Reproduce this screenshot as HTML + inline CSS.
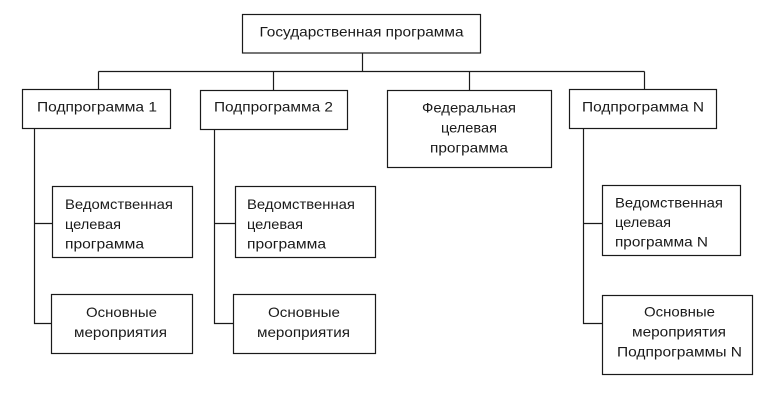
<!DOCTYPE html>
<html><head><meta charset="utf-8"><style>
html,body{margin:0;padding:0;background:#fff;}
svg{display:block;}
text{font-family:"Liberation Sans","DejaVu Sans",sans-serif;font-size:14px;fill:#1a1a1a;}
</style></head><body>
<svg width="768" height="405" viewBox="0 0 768 405" xmlns="http://www.w3.org/2000/svg">
<g fill="#fff" stroke="#1a1a1a" stroke-width="1.2">
<!-- connectors -->
<line x1="362.5" y1="53" x2="362.5" y2="71.5"/>
<line x1="98.5" y1="71.5" x2="644.5" y2="71.5"/>
<line x1="98.5" y1="71.5" x2="98.5" y2="89"/>
<line x1="273.5" y1="71.5" x2="273.5" y2="90"/>
<line x1="469.5" y1="71.5" x2="469.5" y2="90"/>
<line x1="644.5" y1="71.5" x2="644.5" y2="89"/>

<polyline fill="none" points="34.5,128 34.5,323.5 51,323.5"/>
<line x1="34.5" y1="223.5" x2="52" y2="223.5"/>
<polyline fill="none" points="214.5,129 214.5,323.5 233,323.5"/>
<line x1="214.5" y1="223.5" x2="235" y2="223.5"/>
<polyline fill="none" points="583.5,128 583.5,323.5 602,323.5"/>
<line x1="583.5" y1="223.5" x2="602" y2="223.5"/>

<!-- boxes -->
<rect x="242.5" y="14.5" width="238" height="38.5"/>
<rect x="22.5" y="89.5" width="148" height="39"/>
<rect x="200.5" y="90.5" width="147" height="39"/>
<rect x="387.5" y="90.5" width="164" height="77"/>
<rect x="569.5" y="89.5" width="147" height="39"/>

<rect x="52.5" y="186.5" width="140" height="71"/>
<rect x="51.5" y="294.5" width="141" height="59"/>
<rect x="235.5" y="186.5" width="140" height="71"/>
<rect x="233.5" y="294.5" width="142" height="59"/>
<rect x="602.5" y="185.5" width="138" height="70"/>
<rect x="602.5" y="295.5" width="150" height="79"/>
</g>

<text x="259.5" y="36.7" textLength="204" lengthAdjust="spacingAndGlyphs">Государственная программа</text>
<text x="37" y="111.3" textLength="120" lengthAdjust="spacingAndGlyphs">Подпрограмма 1</text>
<text x="214" y="111.5" textLength="119" lengthAdjust="spacingAndGlyphs">Подпрограмма 2</text>
<text x="582" y="111.3" textLength="122" lengthAdjust="spacingAndGlyphs">Подпрограмма N</text>

<text x="422" y="112.5" textLength="94" lengthAdjust="spacingAndGlyphs">Федеральная</text>
<text x="441" y="132.5" textLength="56" lengthAdjust="spacingAndGlyphs">целевая</text>
<text x="430" y="152.3" textLength="78" lengthAdjust="spacingAndGlyphs">программа</text>

<text x="65" y="209" textLength="108" lengthAdjust="spacingAndGlyphs">Ведомственная</text>
<text x="65" y="228.8" textLength="56" lengthAdjust="spacingAndGlyphs">целевая</text>
<text x="65" y="248.5" textLength="79" lengthAdjust="spacingAndGlyphs">программа</text>

<text x="86" y="317" textLength="71" lengthAdjust="spacingAndGlyphs">Основные</text>
<text x="74" y="337" textLength="93" lengthAdjust="spacingAndGlyphs">мероприятия</text>

<text x="247" y="209" textLength="108" lengthAdjust="spacingAndGlyphs">Ведомственная</text>
<text x="247" y="228.8" textLength="56" lengthAdjust="spacingAndGlyphs">целевая</text>
<text x="247" y="248.5" textLength="79" lengthAdjust="spacingAndGlyphs">программа</text>

<text x="268" y="317" textLength="72" lengthAdjust="spacingAndGlyphs">Основные</text>
<text x="257" y="337" textLength="93" lengthAdjust="spacingAndGlyphs">мероприятия</text>

<text x="615" y="207.3" textLength="108" lengthAdjust="spacingAndGlyphs">Ведомственная</text>
<text x="615" y="227" textLength="56" lengthAdjust="spacingAndGlyphs">целевая</text>
<text x="615" y="246.7" textLength="93" lengthAdjust="spacingAndGlyphs">программа N</text>

<text x="644" y="316.7" textLength="71" lengthAdjust="spacingAndGlyphs">Основные</text>
<text x="632" y="336.7" textLength="94" lengthAdjust="spacingAndGlyphs">мероприятия</text>
<text x="617" y="356.7" textLength="125" lengthAdjust="spacingAndGlyphs">Подпрограммы N</text>
</svg>
</body></html>
